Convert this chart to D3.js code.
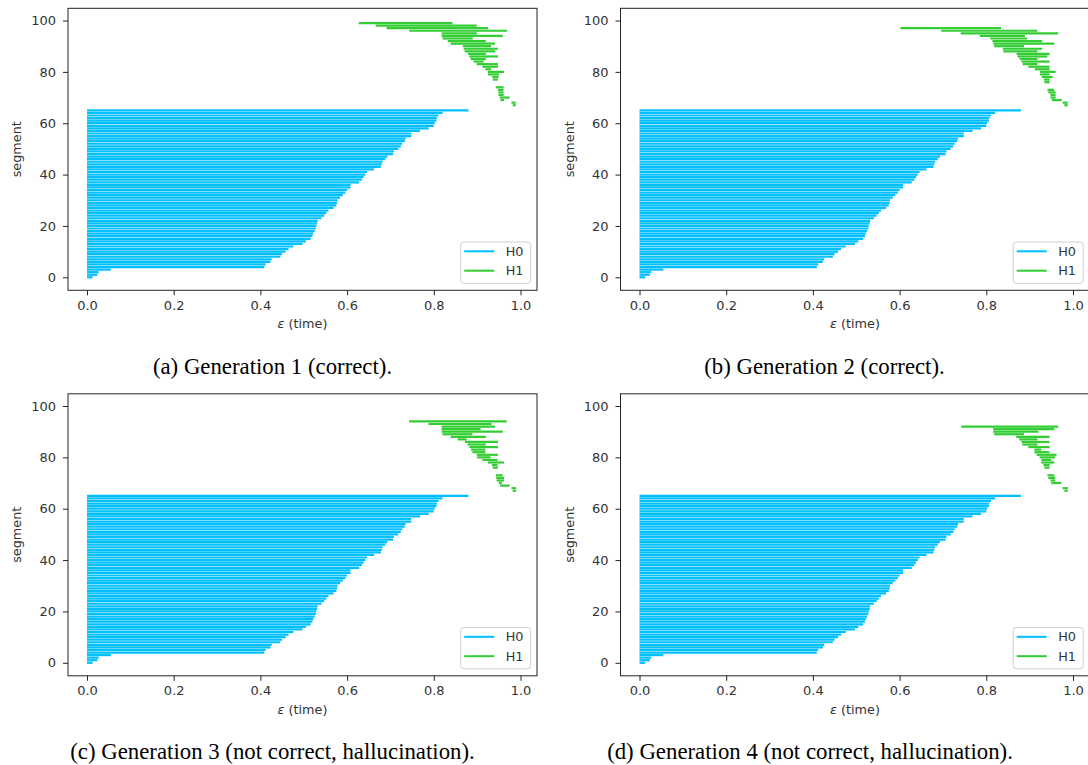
<html>
<head>
<meta charset="utf-8" />
<title>Barcodes</title>
<script src="https://cdn.jsdelivr.net/npm/d3@7"></script>
<style>
body { margin: 0; background: #fff; }
text { font-family: "DejaVu Sans", sans-serif; fill: #333; }
.caption { font-family: "Liberation Serif", "Times New Roman", serif; fill: #000; }
</style>
</head>
<body>
<script>

// H0 deaths (birth is 0), segment index = position in array
var h0Deaths = [0.013, 0.024, 0.027, 0.055, 0.409, 0.412, 0.423, 0.426, 0.446, 0.450,
	0.458, 0.465, 0.476, 0.497, 0.505, 0.516, 0.520, 0.522, 0.525, 0.528,
	0.529, 0.531, 0.532, 0.541, 0.547, 0.552, 0.557, 0.569, 0.575, 0.577,
	0.578, 0.584, 0.590, 0.596, 0.600, 0.608, 0.608, 0.628, 0.634, 0.638,
	0.642, 0.646, 0.662, 0.678, 0.680, 0.682, 0.688, 0.693, 0.706, 0.708,
	0.718, 0.724, 0.727, 0.733, 0.735, 0.748, 0.748, 0.768, 0.788, 0.800,
	0.802, 0.806, 0.807, 0.811, 0.820, 0.880];

// H1: [segment, birth, death]
var gen1H1 = [[99,0.627,0.843],[98,0.666,0.899],[97,0.691,0.925],[96,0.743,0.969],[95,0.818,0.899],
	[94,0.818,0.959],[93,0.820,0.890],[92,0.832,0.920],[91,0.839,0.941],[90,0.867,0.932],
	[89,0.869,0.948],[88,0.871,0.942],[87,0.879,0.920],[86,0.882,0.948],[85,0.885,0.920],
	[84,0.892,0.915],[83,0.899,0.948],[82,0.912,0.948],[81,0.919,0.932],[80,0.925,0.962],
	[79,0.925,0.950],[78,0.935,0.949],[77,0.936,0.948],[74,0.943,0.961],[73,0.948,0.961],
	[72,0.949,0.961],[71,0.949,0.961],[70,0.952,0.975],[69,0.954,0.962],[68,0.979,0.989],[67,0.982,0.989]];

var gen2H1 = [[97,0.602,0.834],[96,0.696,0.918],[95,0.741,0.966],[94,0.785,0.889],[93,0.809,0.894],
	[92,0.814,0.929],[91,0.816,0.957],[90,0.818,0.887],[89,0.838,0.929],[88,0.839,0.918],
	[87,0.870,0.946],[86,0.872,0.941],[85,0.877,0.918],[84,0.881,0.946],[83,0.884,0.918],
	[82,0.897,0.946],[81,0.912,0.946],[80,0.924,0.960],[79,0.924,0.946],[78,0.928,0.953],
	[77,0.933,0.946],[76,0.934,0.946],[73,0.941,0.957],[72,0.943,0.960],[71,0.948,0.960],
	[70,0.948,0.960],[69,0.951,0.974],[68,0.976,0.988],[67,0.980,0.988]];

var gen3H1 = [[94,0.743,0.968],[93,0.788,0.933],[92,0.818,0.941],[91,0.818,0.908],[90,0.818,0.959],
	[89,0.820,0.889],[88,0.839,0.920],[87,0.855,0.876],[86,0.872,0.948],[85,0.878,0.920],
	[84,0.882,0.948],[83,0.886,0.919],[82,0.889,0.919],[81,0.899,0.948],[80,0.900,0.931],
	[79,0.912,0.947],[78,0.925,0.962],[77,0.934,0.947],[76,0.936,0.948],[73,0.943,0.959],
	[72,0.944,0.962],[71,0.945,0.962],[70,0.950,0.957],[69,0.953,0.975],[68,0.979,0.990],[67,0.982,0.990]];

var gen4H1 = [[92,0.742,0.966],[91,0.816,0.957],[90,0.816,0.920],[89,0.818,0.887],[88,0.869,0.946],
	[87,0.876,0.918],[86,0.881,0.946],[85,0.883,0.918],[84,0.897,0.946],[83,0.911,0.927],
	[82,0.911,0.946],[81,0.916,0.962],[80,0.923,0.959],[79,0.927,0.950],[78,0.927,0.957],
	[77,0.932,0.946],[76,0.934,0.946],[73,0.941,0.957],[72,0.943,0.959],[71,0.948,0.959],
	[70,0.950,0.973],[68,0.976,0.988],[67,0.980,0.988]];

var captions = ["(a) Generation 1 (correct).", "(b) Generation 2 (correct).",
	"(c) Generation 3 (not correct, hallucination).", "(d) Generation 4 (not correct, hallucination)."];
var xTicks = [0, 0.2, 0.4, 0.6, 0.8, 1.0];
var yTicks = [0, 20, 40, 60, 80, 100];
var legendLabels = ["H0", "H1"];

var h0Color = "#00bfff", h1Color = "#32cd32";

var svg = d3.select("body").append("svg").attr("width", 1088).attr("height", 765);

var panels = [
	{ox: 0, oy: 0, h1: gen1H1, cap: captions[0], capX: 272.5, capY: 374},
	{ox: 552.5, oy: 0, h1: gen2H1, cap: captions[1], capX: 824.5, capY: 374},
	{ox: 0, oy: 385.5, h1: gen3H1, cap: captions[2], capX: 272.5, capY: 759},
	{ox: 552.5, oy: 385.5, h1: gen4H1, cap: captions[3], capX: 810, capY: 759}
];

// axes box (panel coords)
var box = {left: 68, top: 8.3, right: 537, bottom: 290.3};

panels.forEach(function(p) {
	var g = svg.append("g").attr("transform", `translate(${p.ox},${p.oy})`);

	var x = d3.scaleLinear().domain([0, 1]).range([87, 520.5]);
	var y = d3.scaleLinear().domain([0, 100]).range([277.3, 20.5]);

	g.append("g").selectAll("line").data(h0Deaths).enter().append("line")
		.attr("x1", x(0)).attr("x2", d => x(d))
		.attr("y1", (d, i) => y(i)).attr("y2", (d, i) => y(i))
		.attr("stroke", h0Color).attr("stroke-width", 2.2);

	g.append("g").selectAll("line").data(p.h1).enter().append("line")
		.attr("x1", d => x(d[1])).attr("x2", d => x(d[2]))
		.attr("y1", d => y(d[0])).attr("y2", d => y(d[0]))
		.attr("stroke", h1Color).attr("stroke-width", 2.2);

	g.append("rect").attr("x", box.left).attr("y", box.top)
		.attr("width", box.right - box.left).attr("height", box.bottom - box.top)
		.attr("fill", "none").attr("stroke", "#222").attr("stroke-width", 1);

	var xa = g.append("g").attr("transform", `translate(0,${box.bottom})`)
		.call(d3.axisBottom(x).tickValues(xTicks).tickFormat(d3.format(".1f")).tickSize(5).tickPadding(5));
	var ya = g.append("g").attr("transform", `translate(${box.left},0)`)
		.call(d3.axisLeft(y).tickValues(yTicks).tickSize(5).tickPadding(7));
	[xa, ya].forEach(function(a) {
		a.select(".domain").remove();
		a.selectAll("line").attr("stroke", "#222");
		a.selectAll("text").attr("font-size", "13px").attr("font-family", "DejaVu Sans").attr("fill", "#333");
	});

	g.append("text").attr("transform", `translate(21,${(box.top + box.bottom) / 2}) rotate(-90)`)
		.attr("text-anchor", "middle").attr("font-size", "12.8px").text("segment");

	var xl = g.append("text").attr("x", (box.left + box.right) / 2).attr("y", 328)
		.attr("text-anchor", "middle").attr("font-size", "12.8px");
	xl.append("tspan").attr("font-style", "italic").text("ε");
	xl.append("tspan").text(" (time)");

	// legend
	var lg = g.append("g").attr("transform", "translate(460.7,242)");
	lg.append("rect").attr("width", 70).attr("height", 41.3).attr("rx", 3)
		.attr("fill", "#fff").attr("fill-opacity", 0.8).attr("stroke", "#d0d0d0");
	[h0Color, h1Color].forEach(function(c, i) {
		lg.append("line").attr("x1", 3.5).attr("x2", 33.5).attr("y1", 9.3 + i * 19.4).attr("y2", 9.3 + i * 19.4)
			.attr("stroke", c).attr("stroke-width", 2);
		lg.append("text").attr("x", 45).attr("y", 13.8 + i * 19.4).attr("font-size", "12.8px").text(legendLabels[i]);
	});

	svg.append("text").attr("class", "caption").attr("x", p.capX).attr("y", p.capY)
		.attr("text-anchor", "middle").attr("font-size", "22.8px").text(p.cap);
});

</script>
</body>
</html>
